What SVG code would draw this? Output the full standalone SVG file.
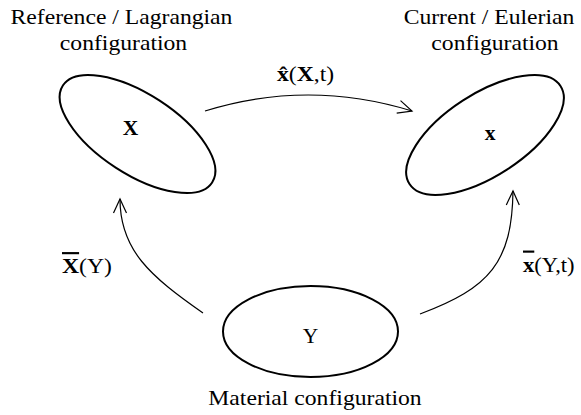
<svg xmlns="http://www.w3.org/2000/svg" width="581" height="415" viewBox="0 0 581 415">
<style>
text{fill:#000}
.t{font-family:'Liberation Serif','Times New Roman',serif;font-size:21.5px}
.b{font-weight:bold}
.node{fill:none;stroke:#000;stroke-width:2}
.edge{fill:none;stroke:#000;stroke-width:1.2}
</style>
<defs>
<marker id="arr" viewBox="-16 -9 18 18" refX="0" refY="0" markerWidth="18" markerHeight="18" markerUnits="userSpaceOnUse" orient="auto">
<path d="M-14,-6.5 L0,0 L-14,6.5" fill="none" stroke="#000" stroke-width="1.2"/>
</marker>
</defs>
<rect width="581" height="415" fill="#fff"/>
<g id="reference">
<ellipse class="node" cx="137.5" cy="134" rx="89" ry="40" transform="rotate(33 137.5 134)"/>
<text class="t b" x="130.5" y="135" text-anchor="middle">X</text>
<text class="t" transform="translate(121.5,24) scale(1.1,1)" text-anchor="middle">Reference / Lagrangian</text>
<text class="t" transform="translate(123.5,50) scale(1.1,1)" text-anchor="middle">configuration</text>
</g>
<g id="current">
<ellipse class="node" cx="485" cy="135" rx="90" ry="41" transform="rotate(-33 485 135)"/>
<text class="t b" x="490" y="140" text-anchor="middle">x</text>
<text class="t" transform="translate(489,24) scale(1.1,1)" text-anchor="middle">Current / Eulerian</text>
<text class="t" transform="translate(495,50) scale(1.1,1)" text-anchor="middle">configuration</text>
</g>
<g id="material">
<ellipse class="node" cx="310.5" cy="331.5" rx="87.5" ry="45.5"/>
<text class="t" x="310.5" y="343" text-anchor="middle" font-size="22">Y</text>
<text class="t" transform="translate(315,405) scale(1.1,1)" text-anchor="middle">Material configuration</text>
</g>
<g id="connectors">
<path class="edge" d="M205,111 Q308,79 412,111" marker-end="url(#arr)"/>
<path class="edge" d="M203,313 C150,276 120,250 120,199" marker-end="url(#arr)"/>
<path class="edge" d="M420,314 C490,288 512,262 513,191" marker-end="url(#arr)"/>
<text class="t" transform="translate(277,81) scale(1.1,1)" font-size="22.5"><tspan class="b">x&#x302;</tspan>(<tspan class="b">X</tspan>,t)</text>
<text class="t" transform="translate(62,273) scale(1.1,1)"><tspan class="b" text-decoration="overline">X</tspan>(Y)</text>
<text class="t" transform="translate(523,272) scale(1.05,1)"><tspan class="b" text-decoration="overline">x</tspan>(Y,t)</text>
</g>
</svg>
